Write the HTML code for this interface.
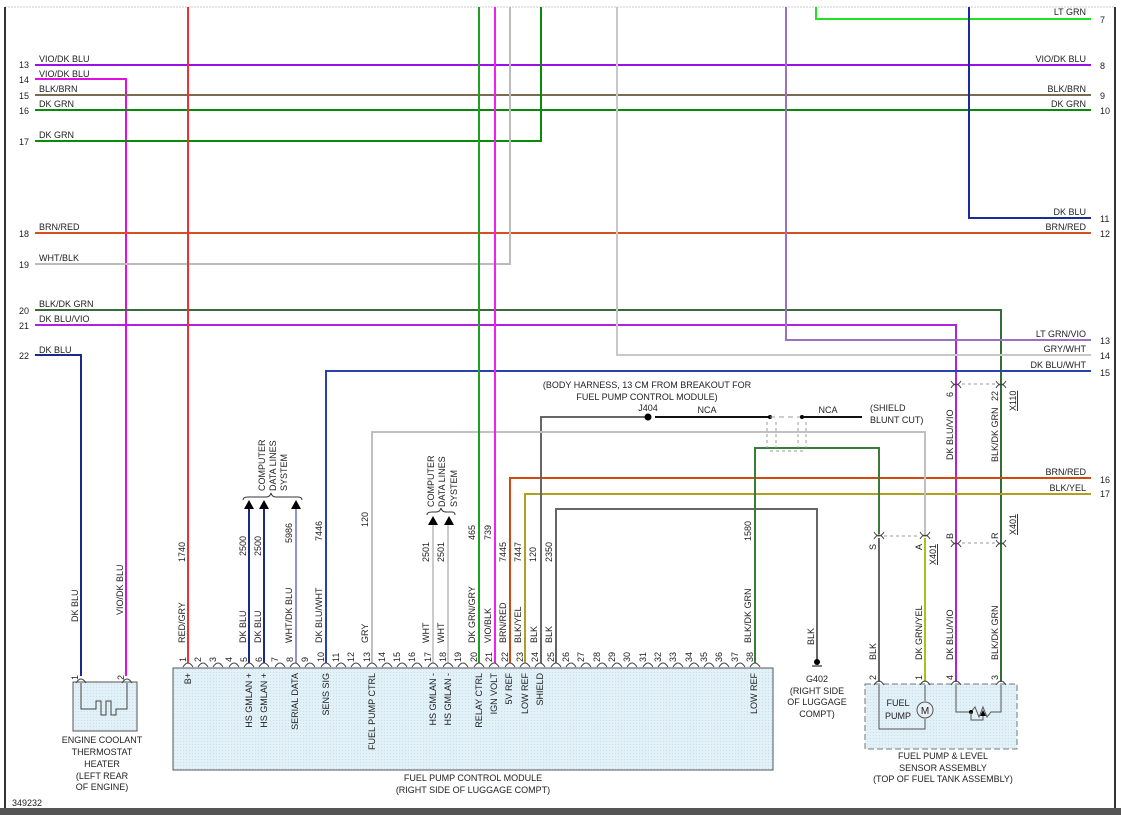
<!DOCTYPE html>
<html><head><meta charset="utf-8"><style>
html,body{margin:0;padding:0;background:#fff}
svg{display:block}
text{font-family:"Liberation Sans",sans-serif;font-size:9px;fill:#222}
</style></head><body>
<svg width="1121" height="815" viewBox="0 0 1121 815" xmlns="http://www.w3.org/2000/svg">
<defs>
<pattern id="dots" width="3" height="3" patternUnits="userSpaceOnUse"><rect width="3" height="3" fill="#e2f1f8"/><rect width="1" height="1" fill="#c8dfec"/></pattern>
</defs>
<!-- frame -->
<line x1="5" y1="7" x2="1115" y2="7" stroke="#ccc" stroke-dasharray="2,1"/>
<line x1="5" y1="7" x2="5" y2="808" stroke="#333" stroke-width="2"/>
<line x1="1115" y1="7" x2="1115" y2="808" stroke="#333" stroke-width="2"/>
<rect x="0" y="808" width="1121" height="7" fill="#555"/>

<!-- boxes -->
<rect x="173" y="668" width="600" height="102" fill="url(#dots)" stroke="#555"/>
<rect x="73" y="682" width="64" height="49" fill="url(#dots)" stroke="#555"/>
<rect x="865" y="684" width="152" height="65" fill="url(#dots)" stroke="#777" stroke-dasharray="6,3"/>

<g fill="none" stroke-width="2">
<!-- horizontal wires -->
<polyline points="816,7 816,19 1091,19" stroke="#22e022"/>
<line x1="35" y1="65" x2="1091" y2="65" stroke="#9a10e8"/>
<polyline points="35,79 126,79 126,676" stroke="#e010e0"/>
<line x1="35" y1="95" x2="1091" y2="95" stroke="#7a6a50"/>
<line x1="35" y1="110" x2="1091" y2="110" stroke="#0a8a0a"/>
<polyline points="35,141 541,141 541,7" stroke="#0a8a0a"/>
<polyline points="969,7 969,218 1091,218" stroke="#1a2a9a"/>
<line x1="35" y1="233" x2="1091" y2="233" stroke="#d85020"/>
<polyline points="35,264 510,264 510,7" stroke="#bbb"/>
<polyline points="35,310 1001,310 1001,682" stroke="#3a6a3a"/>
<polyline points="35,325 956,325 956,682" stroke="#b020e0"/>
<polyline points="786,7 786,340 1091,340" stroke="#9a70c0"/>
<polyline points="617,7 617,355 1091,355" stroke="#c8c8c8"/>
<polyline points="35,355 81,355 81,676" stroke="#1a2a8a"/>
<polyline points="326,663 326,371 1091,371" stroke="#2a40b0"/>
<polyline points="510,663 510,478 1091,478" stroke="#d04a10"/>
<polyline points="525,663 525,494 1091,494" stroke="#b0a020"/>
<polyline points="556,663 556,509 817,509 817,660" stroke="#666"/>
<polyline points="541,663 541,417 645,417" stroke="#666"/>
<polyline points="372,663 372,432 925,432 925,534" stroke="#c0c0c0"/>
<polyline points="755,663 755,448 879,448 879,534" stroke="#3a7a3a"/>
<line x1="879" y1="538" x2="879" y2="682" stroke="#666"/>
<line x1="925" y1="538" x2="925" y2="682" stroke="#a8c020"/>
<!-- verticals -->
<line x1="188" y1="7" x2="188" y2="663" stroke="#f03030"/>
<line x1="479" y1="7" x2="479" y2="663" stroke="#20a020"/>
<line x1="495" y1="7" x2="495" y2="663" stroke="#f020f0"/>
<line x1="249" y1="507" x2="249" y2="663" stroke="#1a2a8a"/>
<line x1="264" y1="507" x2="264" y2="663" stroke="#1a2a8a"/>
<line x1="296" y1="507" x2="296" y2="663" stroke="#6a70c8" stroke-width="1.5"/>
<line x1="433" y1="525" x2="433" y2="663" stroke="#ccc"/>
<line x1="448" y1="525" x2="448" y2="663" stroke="#ccc"/>
</g>
<!-- J404 / shield -->
<circle cx="648" cy="417" r="3.5" fill="#000"/>
<line x1="655" y1="417" x2="770" y2="417" stroke="#111" stroke-width="2"/>
<circle cx="770" cy="417" r="2" fill="#000"/>
<line x1="770" y1="417" x2="802" y2="417" stroke="#999" stroke-dasharray="5,4"/>
<circle cx="802" cy="417" r="2" fill="#000"/>
<line x1="802" y1="417" x2="862" y2="417" stroke="#111" stroke-width="2"/>
<g stroke="#999" stroke-dasharray="3,3" fill="none">
<line x1="767" y1="422" x2="767" y2="448"/><line x1="776" y1="422" x2="776" y2="448"/>
<line x1="798" y1="422" x2="798" y2="448"/><line x1="806" y1="422" x2="806" y2="448"/>
<line x1="770" y1="451" x2="804" y2="451"/>
<line x1="962" y1="384" x2="996" y2="384"/><line x1="962" y1="543" x2="996" y2="543"/>
<line x1="884" y1="536" x2="920" y2="536"/>
</g>
<!-- arrows & braces -->
<g fill="#000">
<polygon points="249,500 244,509 254,509"/><polygon points="264,500 259,509 269,509"/><polygon points="296,500 291,509 301,509"/>
<polygon points="433,516 428,525 438,525"/><polygon points="449,516 444,525 454,525"/>
</g>
<g fill="none" stroke="#333">
<path d="M243,500 Q243,497 248,497 L266,497 Q270,497 271,493 Q272,497 276,497 L298,497 Q302,497 302,500"/>
<path d="M427,515 Q427,512 432,512 L436,512 Q440,512 441,508 Q442,512 446,512 L452,512 Q455,512 455,515"/>
</g>
<!-- connector arcs -->
<g fill="none" stroke="#444" stroke-width="1">
<path d="M183,667 Q188,659 193,667"/>
<path d="M198,667 Q203,659 208,667"/><path d="M213,667 Q218,659 223,667"/><path d="M229,667 Q234,659 239,667"/>
<path d="M244,667 Q249,659 254,667"/><path d="M259,667 Q264,659 269,667"/><path d="M275,667 Q280,659 285,667"/>
<path d="M290,667 Q295,659 300,667"/><path d="M305,667 Q310,659 315,667"/><path d="M321,667 Q326,659 331,667"/>
<path d="M336,667 Q341,659 346,667"/><path d="M351,667 Q356,659 361,667"/><path d="M367,667 Q372,659 377,667"/>
<path d="M382,667 Q387,659 392,667"/><path d="M397,667 Q402,659 407,667"/><path d="M412,667 Q417,659 422,667"/>
<path d="M428,667 Q433,659 438,667"/><path d="M443,667 Q448,659 453,667"/><path d="M458,667 Q463,659 468,667"/>
<path d="M474,667 Q479,659 484,667"/><path d="M489,667 Q494,659 499,667"/><path d="M505,667 Q510,659 515,667"/>
<path d="M520,667 Q525,659 530,667"/><path d="M535,667 Q540,659 545,667"/><path d="M551,667 Q556,659 561,667"/>
<path d="M566,667 Q571,659 576,667"/><path d="M581,667 Q586,659 591,667"/><path d="M597,667 Q602,659 607,667"/>
<path d="M612,667 Q617,659 622,667"/><path d="M627,667 Q632,659 637,667"/><path d="M643,667 Q648,659 653,667"/>
<path d="M658,667 Q663,659 668,667"/><path d="M673,667 Q678,659 683,667"/><path d="M689,667 Q694,659 699,667"/>
<path d="M704,667 Q709,659 714,667"/><path d="M719,667 Q724,659 729,667"/><path d="M735,667 Q740,659 745,667"/>
<path d="M750,667 Q755,659 760,667"/>
<path d="M76,683 Q81,675 86,683"/><path d="M122,683 Q127,675 132,683"/>
<path d="M874,685 Q879,677 884,685"/><path d="M920,685 Q925,677 930,685"/><path d="M951,685 Q956,677 961,685"/><path d="M996,685 Q1001,677 1006,685"/>
<path d="M951,388 Q956,380 961,388"/><path d="M996,388 Q1001,380 1006,388"/><path d="M951,381 Q956,389 961,381"/><path d="M996,381 Q1001,389 1006,381"/>
<path d="M951,547 Q956,539 961,547"/><path d="M996,547 Q1001,539 1006,547"/><path d="M951,540 Q956,548 961,540"/><path d="M996,540 Q1001,548 1006,540"/>
<path d="M874,539 Q879,531 884,539"/><path d="M920,539 Q925,531 930,539"/><path d="M874,532 Q879,540 884,532"/><path d="M920,532 Q925,540 930,532"/>
</g>
<!-- heater element -->
<polyline points="81,683 81,709 96,709 96,701 101,701 101,715 106,715 106,701 111,701 111,715 116,715 116,709 127,709 127,683" fill="none" stroke="#444"/>
<!-- fuel pump internals -->
<polyline points="879,685 879,729 925,729 925,719" fill="none" stroke="#555"/>
<line x1="925" y1="685" x2="925" y2="701" stroke="#555"/>
<circle cx="925" cy="710" r="8" fill="#e8f0f8" stroke="#555"/>
<text x="925" y="714" text-anchor="middle" style="font-size:10px">M</text>
<text x="898" y="706" text-anchor="middle">FUEL</text><text x="898" y="719" text-anchor="middle">PUMP</text>
<polyline points="956,685 956,712 971,712 975,707 979,717 983,707 987,717 991,712 1001,712 1001,685" fill="none" stroke="#555"/>
<circle cx="971" cy="712" r="2" fill="#000"/>
<polyline points="971,712 971,720 983,720 983,712" fill="none" stroke="#555"/>
<polygon points="983,710 980,716 986,716" fill="#000"/>
<!-- ground -->
<circle cx="817" cy="662" r="3" fill="#000"/><line x1="812" y1="666" x2="822" y2="666" stroke="#000"/>

<!-- left labels -->
<g text-anchor="end">
<text x="29" y="68">13</text><text x="29" y="83">14</text><text x="29" y="99">15</text><text x="29" y="114">16</text><text x="29" y="145">17</text>
<text x="29" y="237">18</text><text x="29" y="268">19</text><text x="29" y="314">20</text><text x="29" y="329">21</text><text x="29" y="359">22</text>
</g>
<text x="39" y="62">VIO/DK BLU</text><text x="39" y="77">VIO/DK BLU</text><text x="39" y="92">BLK/BRN</text><text x="39" y="107">DK GRN</text>
<text x="39" y="138">DK GRN</text><text x="39" y="230">BRN/RED</text><text x="39" y="261">WHT/BLK</text><text x="39" y="307">BLK/DK GRN</text>
<text x="39" y="322">DK BLU/VIO</text><text x="39" y="353">DK BLU</text>
<!-- right labels -->
<g text-anchor="end">
<text x="1086" y="15">LT GRN</text><text x="1086" y="62">VIO/DK BLU</text><text x="1086" y="92">BLK/BRN</text><text x="1086" y="107">DK GRN</text>
<text x="1086" y="215">DK BLU</text><text x="1086" y="230">BRN/RED</text><text x="1086" y="337">LT GRN/VIO</text><text x="1086" y="352">GRY/WHT</text>
<text x="1086" y="368">DK BLU/WHT</text><text x="1086" y="475">BRN/RED</text><text x="1086" y="491">BLK/YEL</text>
</g>
<g>
<text x="1100" y="23">7</text><text x="1100" y="69">8</text><text x="1100" y="99">9</text><text x="1100" y="114">10</text><text x="1100" y="222">11</text>
<text x="1100" y="237">12</text><text x="1100" y="344">13</text><text x="1100" y="359">14</text><text x="1100" y="376">15</text><text x="1100" y="483">16</text><text x="1100" y="497">17</text>
</g>
<!-- center texts -->
<g text-anchor="middle">
<text x="647" y="388">(BODY HARNESS, 13 CM FROM BREAKOUT FOR</text>
<text x="647" y="400">FUEL PUMP CONTROL MODULE)</text>
<text x="648" y="411">J404</text><text x="707" y="413">NCA</text><text x="828" y="413">NCA</text>
<text x="817" y="682">G402</text><text x="817" y="694">(RIGHT SIDE</text><text x="817" y="705">OF LUGGAGE</text><text x="817" y="717">COMPT)</text>
<text x="473" y="781">FUEL PUMP CONTROL MODULE</text><text x="473" y="793">(RIGHT SIDE OF LUGGAGE COMPT)</text>
<text x="943" y="759">FUEL PUMP &amp; LEVEL</text><text x="943" y="771">SENSOR ASSEMBLY</text><text x="943" y="782">(TOP OF FUEL TANK ASSEMBLY)</text>
<text x="102" y="743">ENGINE COOLANT</text><text x="102" y="755">THERMOSTAT</text><text x="102" y="767">HEATER</text><text x="102" y="779">(LEFT REAR</text><text x="102" y="790">OF ENGINE)</text>
</g>
<text x="870" y="411">(SHIELD</text><text x="870" y="423">BLUNT CUT)</text>
<text x="12" y="806">349232</text>

<!-- rotated texts: helper via transform -->
<g>
<!-- computer data lines -->
<text transform="translate(265,491) rotate(-90)">COMPUTER</text>
<text transform="translate(276,491) rotate(-90)">DATA LINES</text>
<text transform="translate(287,491) rotate(-90)">SYSTEM</text>
<text transform="translate(434,507) rotate(-90)">COMPUTER</text>
<text transform="translate(445,507) rotate(-90)">DATA LINES</text>
<text transform="translate(457,507) rotate(-90)">SYSTEM</text>
<!-- circuit numbers -->
<text transform="translate(185,562) rotate(-90)">1740</text>
<text transform="translate(246,556) rotate(-90)">2500</text>
<text transform="translate(261,556) rotate(-90)">2500</text>
<text transform="translate(292,543) rotate(-90)">5986</text>
<text transform="translate(322,541) rotate(-90)">7446</text>
<text transform="translate(368,527) rotate(-90)">120</text>
<text transform="translate(429,562) rotate(-90)">2501</text>
<text transform="translate(444,562) rotate(-90)">2501</text>
<text transform="translate(475,540) rotate(-90)">465</text>
<text transform="translate(491,540) rotate(-90)">739</text>
<text transform="translate(506,562) rotate(-90)">7445</text>
<text transform="translate(521,562) rotate(-90)">7447</text>
<text transform="translate(536,562) rotate(-90)">120</text>
<text transform="translate(552,562) rotate(-90)">2350</text>
<text transform="translate(751,541) rotate(-90)">1580</text>
<!-- wire colors -->
<text transform="translate(185,643) rotate(-90)">RED/GRY</text>
<text transform="translate(246,643) rotate(-90)">DK BLU</text>
<text transform="translate(261,643) rotate(-90)">DK BLU</text>
<text transform="translate(292,643) rotate(-90)">WHT/DK BLU</text>
<text transform="translate(322,643) rotate(-90)">DK BLU/WHT</text>
<text transform="translate(368,643) rotate(-90)">GRY</text>
<text transform="translate(429,643) rotate(-90)">WHT</text>
<text transform="translate(444,643) rotate(-90)">WHT</text>
<text transform="translate(475,643) rotate(-90)">DK GRN/GRY</text>
<text transform="translate(491,643) rotate(-90)">VIO/BLK</text>
<text transform="translate(506,643) rotate(-90)">BRN/RED</text>
<text transform="translate(521,643) rotate(-90)">BLK/YEL</text>
<text transform="translate(537,643) rotate(-90)">BLK</text>
<text transform="translate(552,643) rotate(-90)">BLK</text>
<text transform="translate(751,643) rotate(-90)">BLK/DK GRN</text>
<text transform="translate(78,622) rotate(-90)">DK BLU</text>
<text transform="translate(123,615) rotate(-90)">VIO/DK BLU</text>
<text transform="translate(814,645) rotate(-90)">BLK</text>
<text transform="translate(876,660) rotate(-90)">BLK</text>
<text transform="translate(922,660) rotate(-90)">DK GRN/YEL</text>
<text transform="translate(953,660) rotate(-90)">DK BLU/VIO</text>
<text transform="translate(998,660) rotate(-90)">BLK/DK GRN</text>
<text transform="translate(953,460) rotate(-90)">DK BLU/VIO</text>
<text transform="translate(998,462) rotate(-90)">BLK/DK GRN</text>
<text transform="translate(953,397) rotate(-90)">6</text>
<text transform="translate(998,401) rotate(-90)">22</text>
<text transform="translate(1016,411) rotate(-90)" text-decoration="underline">X110</text>
<text transform="translate(953,539) rotate(-90)">B</text>
<text transform="translate(998,539) rotate(-90)">R</text>
<text transform="translate(1016,535) rotate(-90)" text-decoration="underline">X401</text>
<text transform="translate(876,550) rotate(-90)">S</text>
<text transform="translate(922,550) rotate(-90)">A</text>
<text transform="translate(936,565) rotate(-90)" text-decoration="underline">X401</text>
<text transform="translate(78,680) rotate(-90)">1</text>
<text transform="translate(124,680) rotate(-90)">2</text>
<text transform="translate(876,680) rotate(-90)">2</text>
<text transform="translate(922,680) rotate(-90)">1</text>
<text transform="translate(953,680) rotate(-90)">4</text>
<text transform="translate(998,680) rotate(-90)">3</text>
<!-- inside module -->
<g text-anchor="end">
<text transform="translate(191,673) rotate(-90)">B+</text>
<text transform="translate(252,673) rotate(-90)">HS GMLAN +</text>
<text transform="translate(267,673) rotate(-90)">HS GMLAN +</text>
<text transform="translate(298,673) rotate(-90)">SERIAL DATA</text>
<text transform="translate(329,673) rotate(-90)">SENS SIG</text>
<text transform="translate(375,673) rotate(-90)">FUEL PUMP CTRL</text>
<text transform="translate(436,673) rotate(-90)">HS GMLAN -</text>
<text transform="translate(451,673) rotate(-90)">HS GMLAN -</text>
<text transform="translate(482,673) rotate(-90)">RELAY CTRL</text>
<text transform="translate(497,673) rotate(-90)">IGN VOLT</text>
<text transform="translate(512,673) rotate(-90)">5V REF</text>
<text transform="translate(528,673) rotate(-90)">LOW REF</text>
<text transform="translate(543,673) rotate(-90)">SHIELD</text>
<text transform="translate(757,673) rotate(-90)">LOW REF</text>
</g>
<!-- pin numbers -->
<g style="font-size:8.5px">
<text transform="translate(186,662) rotate(-90)">1</text><text transform="translate(201,662) rotate(-90)">2</text><text transform="translate(216,662) rotate(-90)">3</text>
<text transform="translate(232,662) rotate(-90)">4</text><text transform="translate(247,662) rotate(-90)">5</text><text transform="translate(262,662) rotate(-90)">6</text>
<text transform="translate(278,662) rotate(-90)">7</text><text transform="translate(293,662) rotate(-90)">8</text><text transform="translate(308,662) rotate(-90)">9</text>
<text transform="translate(324,662) rotate(-90)">10</text><text transform="translate(339,662) rotate(-90)">11</text><text transform="translate(354,662) rotate(-90)">12</text>
<text transform="translate(370,662) rotate(-90)">13</text><text transform="translate(385,662) rotate(-90)">14</text><text transform="translate(400,662) rotate(-90)">15</text>
<text transform="translate(415,662) rotate(-90)">16</text><text transform="translate(431,662) rotate(-90)">17</text><text transform="translate(446,662) rotate(-90)">18</text>
<text transform="translate(461,662) rotate(-90)">19</text><text transform="translate(477,662) rotate(-90)">20</text><text transform="translate(492,662) rotate(-90)">21</text>
<text transform="translate(508,662) rotate(-90)">22</text><text transform="translate(523,662) rotate(-90)">23</text><text transform="translate(538,662) rotate(-90)">24</text>
<text transform="translate(554,662) rotate(-90)">25</text><text transform="translate(569,662) rotate(-90)">26</text><text transform="translate(584,662) rotate(-90)">27</text>
<text transform="translate(600,662) rotate(-90)">28</text><text transform="translate(615,662) rotate(-90)">29</text><text transform="translate(630,662) rotate(-90)">30</text>
<text transform="translate(646,662) rotate(-90)">31</text><text transform="translate(661,662) rotate(-90)">32</text><text transform="translate(676,662) rotate(-90)">33</text>
<text transform="translate(692,662) rotate(-90)">34</text><text transform="translate(707,662) rotate(-90)">35</text><text transform="translate(722,662) rotate(-90)">36</text>
<text transform="translate(738,662) rotate(-90)">37</text><text transform="translate(753,662) rotate(-90)">38</text>
</g>
</g>
</svg>
</body></html>
